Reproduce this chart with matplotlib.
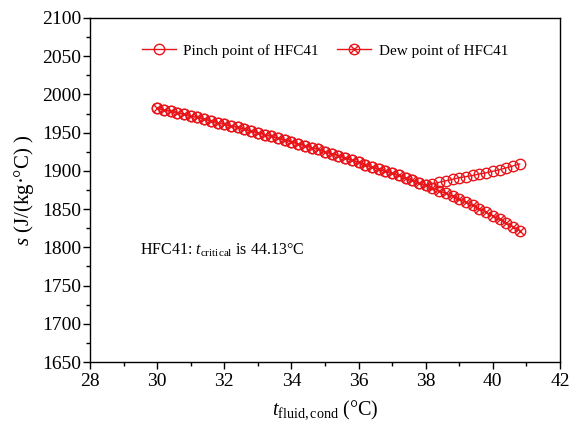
import matplotlib
matplotlib.use("Agg")
import matplotlib.pyplot as plt
from matplotlib.ticker import MultipleLocator
from matplotlib.lines import Line2D

plt.rcParams['font.family'] = ['Liberation Serif', 'DejaVu Serif']
plt.rcParams['mathtext.fontset'] = 'custom'
plt.rcParams['mathtext.rm'] = 'Liberation Serif'
plt.rcParams['mathtext.it'] = 'Liberation Serif:italic'

t_fluid = [30.0, 30.2, 30.4, 30.6, 30.8, 31.0, 31.2, 31.4, 31.6, 31.8,
           32.0, 32.2, 32.4, 32.6, 32.8, 33.0, 33.2, 33.4, 33.6, 33.8,
           34.0, 34.2, 34.4, 34.6, 34.8, 35.0, 35.2, 35.4, 35.6, 35.8,
           36.0, 36.2, 36.4, 36.6, 36.8, 37.0, 37.2, 37.4, 37.6, 37.8,
           38.0, 38.2, 38.4, 38.6, 38.8, 39.0, 39.2, 39.4, 39.6, 39.8,
           40.0, 40.2, 40.4, 40.6, 40.8]

dew = [1982, 1980, 1978, 1976, 1974, 1972, 1970, 1968, 1965.5, 1963,
       1961, 1959, 1957, 1954.5, 1952, 1950, 1947.5, 1945, 1943, 1940.5,
       1938, 1935.5, 1933, 1930.5, 1928, 1925, 1922.5, 1920, 1917, 1914,
       1911, 1908, 1905, 1902.5, 1899.5, 1897, 1894, 1890.5, 1887.5, 1884,
       1881, 1877.5, 1874, 1870.5, 1867, 1863, 1859, 1855, 1850.5, 1846,
       1841, 1836.5, 1832, 1827, 1822]

pinch = [1982, 1980, 1978, 1976, 1974, 1972, 1970, 1968, 1965.5, 1963,
         1961, 1959, 1957, 1954.5, 1952, 1950, 1947.5, 1945, 1943, 1940.5,
         1938, 1935.5, 1933, 1930.5, 1928, 1925, 1922.5, 1920, 1917, 1914,
         1911, 1908, 1905, 1902.5, 1899.5, 1897, 1894, 1890.5, 1887.5, 1884,
         1881, 1883, 1885, 1887, 1889, 1891, 1892.5, 1894, 1896, 1897.5,
         1899.5, 1901.5, 1904, 1906.5, 1909]

red = '#e8161b'
fig = plt.figure(figsize=(5.71, 4.23), dpi=100)
ax = fig.add_axes([90/571, 1-362/423, 470/571, 344/423])

ax.plot(t_fluid, pinch, color=red, lw=1, marker='o', ms=7.5, mfc='none', mec=red, mew=1)
ax.plot(t_fluid, dew, color=red, lw=1, marker='o', ms=7.5, mfc='none', mec=red, mew=1)
ax.plot(t_fluid, dew, color=red, lw=0, marker='x', ms=6, mec=red, mew=1)

ax.set_xlim(28, 42)
ax.set_ylim(1650, 2100)
ax.xaxis.set_major_locator(MultipleLocator(2))
ax.xaxis.set_minor_locator(MultipleLocator(1))
ax.yaxis.set_major_locator(MultipleLocator(50))
ax.yaxis.set_minor_locator(MultipleLocator(25))
ax.tick_params(which='both', direction='out', top=False, right=False, labelsize=14, width=1)
ax.tick_params(which='major', length=5)
ax.tick_params(which='minor', length=3)
ax.tick_params(axis='y', pad=1.5)
ax.tick_params(axis='x', pad=3)
for s in ax.spines.values():
    s.set_linewidth(1)

ax.set_xlabel(r'$t_{\mathrm{fluid,cond}}$ (°C)', fontsize=14.5, labelpad=6)
ax.set_ylabel(r'$s$ (J/(kg·°C) )', fontsize=15, labelpad=4)

ax.text(29.5, 1796, r'HFC41: $t_{\mathrm{critical}}$ is 44.13°C', fontsize=11.5, va='center')

h1 = Line2D([], [], color=red, lw=1, marker='o', ms=7.5, mfc='none', mec=red)
h2a = Line2D([], [], color=red, lw=1, marker='o', ms=7.5, mfc='none', mec=red)
h2b = Line2D([], [], color=red, lw=0, marker='x', ms=6, mec=red)
ax.legend([h1, (h2a, h2b)], ['Pinch point of HFC41', 'Dew point of HFC41'],
          loc='upper center', bbox_to_anchor=(0.5, 0.965), ncol=2, frameon=False,
          fontsize=11, handlelength=2.2, columnspacing=1.2, handletextpad=0.5)

fig.savefig('out.png', dpi=100)
